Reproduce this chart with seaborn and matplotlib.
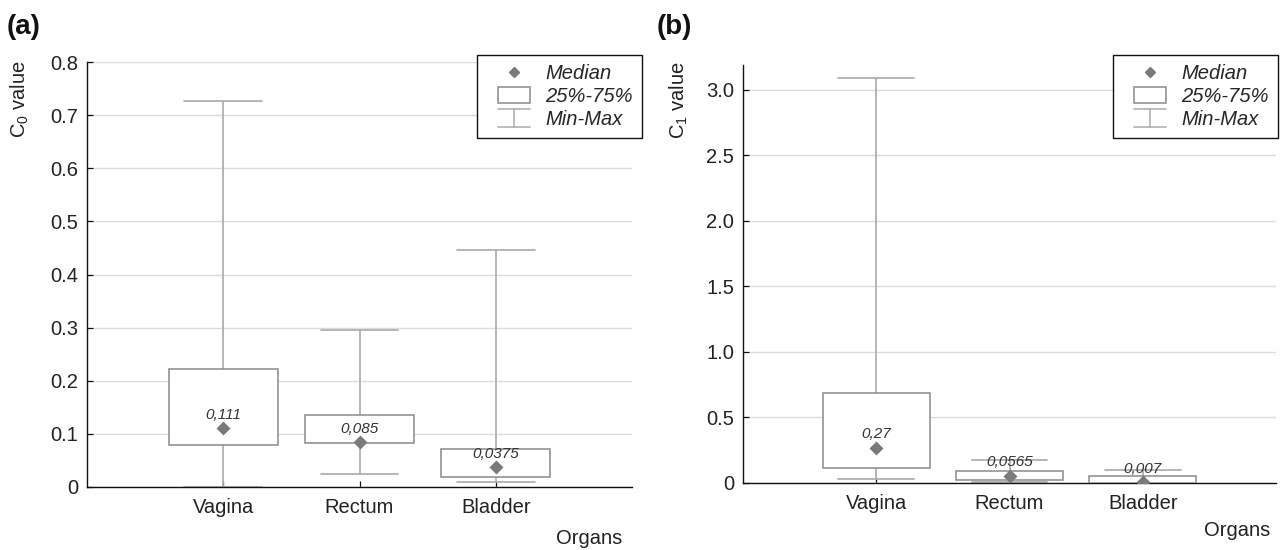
import numpy as np
import pandas as pd
import matplotlib
matplotlib.use("Agg")
import matplotlib.pyplot as plt
import seaborn as sns
from matplotlib.lines import Line2D
from matplotlib.patches import Rectangle
from matplotlib.legend_handler import HandlerBase

# ---------------- data ----------------
organs = ["Vagina", "Rectum", "Bladder"]

c0_min = [0.0, 0.025, 0.009]
c0_q1 = [0.079, 0.083, 0.019]
c0_median = [0.111, 0.085, 0.0375]
c0_q3 = [0.223, 0.136, 0.072]
c0_max = [0.726, 0.296, 0.447]
c0_labels = ["0,111", "0,085", "0,0375"]

c1_min = [0.03, 0.005, 0.0]
c1_q1 = [0.115, 0.023, 0.002]
c1_median = [0.27, 0.0565, 0.007]
c1_q3 = [0.69, 0.092, 0.053]
c1_max = [3.09, 0.176, 0.099]
c1_labels = ["0,27", "0,0565", "0,007"]

c0_ticks = [0, 0.1, 0.2, 0.3, 0.4, 0.5, 0.6, 0.7, 0.8]
c1_ticks = [0, 0.5, 1.0, 1.5, 2.0, 2.5, 3.0]

legend_labels = ["Median", "25%-75%", "Min-Max"]

# ---------------- style ----------------
sns.set_style("ticks")
plt.rcParams["font.family"] = ["Liberation Sans", "DejaVu Sans"]
plt.rcParams["mathtext.fontset"] = "custom"
plt.rcParams["mathtext.rm"] = "Liberation Sans"
plt.rcParams["mathtext.it"] = "Liberation Sans:italic"

BOX_EDGE = "#8a8a8a"
WHISK = "#b0b0b0"
MED = "#7a7a7a"
GRID = "#dcdcdc"
TXT = "#222222"
FS = 14.5
HANDLE_W = 23.0  # points actually drawn on the right of each handle slot


def _slot(xdescent, width):
    x1 = -xdescent + width
    return x1 - HANDLE_W, x1


class HandlerMed(HandlerBase):
    def create_artists(self, legend, orig_handle, xdescent, ydescent,
                       width, height, fontsize, trans):
        x0, x1 = _slot(xdescent, width)
        cy = -ydescent + height / 2
        return [Line2D([(x0 + x1) / 2], [cy], marker="D", ls="none",
                       color=MED, markersize=5, transform=trans)]


class HandlerBox(HandlerBase):
    def create_artists(self, legend, orig_handle, xdescent, ydescent,
                       width, height, fontsize, trans):
        x0, x1 = _slot(xdescent, width)
        return [Rectangle((x0, -ydescent), x1 - x0, height, facecolor="white",
                          edgecolor=BOX_EDGE, lw=1.1, transform=trans)]


class HandlerMinMax(HandlerBase):
    def create_artists(self, legend, orig_handle, xdescent, ydescent,
                       width, height, fontsize, trans):
        x0, x1 = _slot(xdescent, width)
        h = height * 1.15
        y0 = -ydescent + (height - h) / 2
        cx = (x0 + x1) / 2
        kw = dict(color=WHISK, lw=1.2, transform=trans)
        return [Line2D([x0, x1], [y0 + h, y0 + h], **kw),
                Line2D([cx, cx], [y0, y0 + h], **kw),
                Line2D([x0, x1], [y0, y0], **kw)]


class MedHandle:
    pass


class BoxHandle:
    pass


class MinMaxHandle:
    pass


def fmt(v, pos=None):
    return "0" if v == 0 else f"{v:.1f}"


def draw_panel(ax, mins, q1, med, q3, maxs, labels, ticks, ylim, ylabel,
               ylab_xy, xlab_xy, leg_anchor):
    vals = np.column_stack([mins, q1, med, q3, maxs]).ravel()
    df = pd.DataFrame({"organ": np.repeat(organs, 5), "value": vals})
    sns.boxplot(data=df, x="organ", y="value", order=organs, whis=(0, 100),
                width=0.8, color="white", linecolor=BOX_EDGE, linewidth=1.1,
                fliersize=0, capwidths=0.57,
                boxprops=dict(facecolor="white", edgecolor=BOX_EDGE, zorder=3),
                whiskerprops=dict(color=WHISK, lw=1.3),
                capprops=dict(color=WHISK, lw=1.3),
                medianprops=dict(linewidth=0),
                ax=ax)
    mdf = pd.DataFrame({"organ": organs, "median": med})
    sns.pointplot(data=mdf, x="organ", y="median", order=organs,
                  errorbar=None, linestyle="none", marker="D",
                  color=MED, markersize=5, ax=ax, zorder=6)
    for i, (m, lab) in enumerate(zip(med, labels)):
        ax.annotate(lab, (i, m), xytext=(0, 9.5), textcoords="offset points",
                    ha="center", va="center", fontsize=11, style="italic",
                    color="#333333", zorder=7)

    ax.set_xlim(-1, 3)
    ax.set_ylim(*ylim)
    ax.set_yticks(ticks)
    ax.yaxis.set_major_formatter(matplotlib.ticker.FuncFormatter(fmt))
    ax.yaxis.grid(True, color=GRID, lw=1.0)
    ax.xaxis.grid(False)
    ax.set_axisbelow(True)
    for s in ["top", "right"]:
        ax.spines[s].set_visible(False)
    for s in ["left", "bottom"]:
        ax.spines[s].set_color("#111111")
        ax.spines[s].set_linewidth(1.0)
    ax.tick_params(axis="both", direction="in", length=4, width=0.9,
                   labelsize=FS, colors="#111111", labelcolor=TXT)
    ax.tick_params(axis="x", pad=8)
    ax.tick_params(axis="y", pad=6.5)

    ax.set_ylabel(ylabel, fontsize=FS, color=TXT)
    ax.yaxis.set_label_coords(*ylab_xy)
    ax.set_xlabel("Organs", fontsize=FS, color=TXT)
    ax.xaxis.set_label_coords(*xlab_xy)

    leg = ax.legend([MedHandle(), BoxHandle(), MinMaxHandle()], legend_labels,
                    handler_map={MedHandle: HandlerMed(),
                                 BoxHandle: HandlerBox(),
                                 MinMaxHandle: HandlerMinMax()},
                    loc="upper right", bbox_to_anchor=leg_anchor,
                    bbox_transform=ax.figure.transFigure,
                    prop=dict(size=FS, style="italic"),
                    frameon=True, fancybox=False, edgecolor="#111111",
                    framealpha=1, handlelength=2.2, handleheight=0.85,
                    handletextpad=0.75, labelspacing=0.2, borderpad=0.45,
                    borderaxespad=0)
    leg.get_frame().set_linewidth(1.0)
    leg.set_zorder(10)


fig = plt.figure(figsize=(12.8, 5.5), dpi=100)
axA = fig.add_axes([87 / 1280, 1 - 487 / 550, 545 / 1280, 425 / 550])
axB = fig.add_axes([743 / 1280, 1 - 483 / 550, 533 / 1280, 418 / 550])

draw_panel(axA, c0_min, c0_q1, c0_median, c0_q3, c0_max, c0_labels,
           c0_ticks, (0, 0.8), r"$\mathrm{C}_0$ value",
           (-0.103, 0.913), (0.921, -0.100), (642 / 1280, 1 - 55 / 550))
draw_panel(axB, c1_min, c1_q1, c1_median, c1_q3, c1_max, c1_labels,
           c1_ticks, (0, 3.19), r"$\mathrm{C}_1$ value",
           (-0.099, 0.916), (0.927, -0.090), (1278 / 1280, 1 - 55 / 550))

fig.text(7 / 1280, 1 - 27 / 550, "(a)", fontsize=20, fontweight="bold",
         va="center", ha="left", color="#111111")
fig.text(657 / 1280, 1 - 27 / 550, "(b)", fontsize=20, fontweight="bold",
         va="center", ha="left", color="#111111")

fig.savefig("out.png", dpi=100)
